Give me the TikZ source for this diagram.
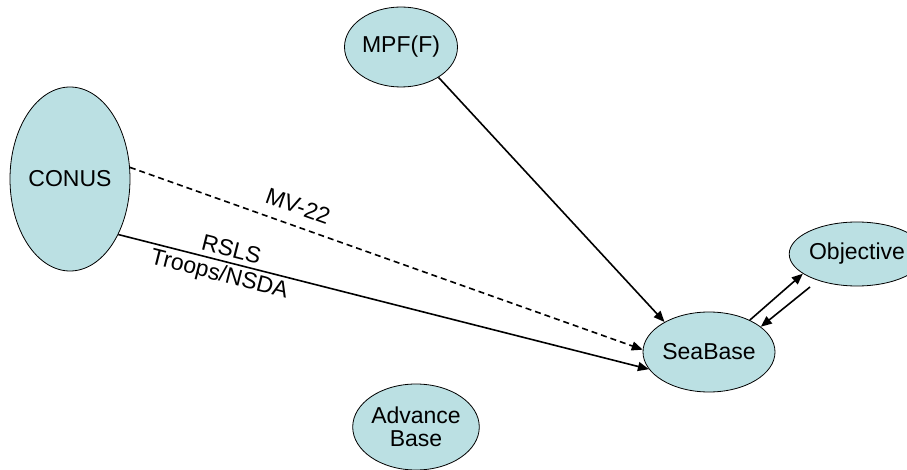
\documentclass[tikz,border=0pt]{standalone}
\usepackage{fontspec}
\setmainfont{Liberation Sans}
\usepackage{xcolor}
\usetikzlibrary{shapes.geometric}
\usetikzlibrary{arrows.meta}
\definecolor{sitefill}{RGB}{187,224,227}

\begin{document}
\begin{tikzpicture}[x=1pt,y=-1pt,
      every node/.style={font=\fontsize{23}{26}\selectfont},
      site/.style={ellipse,draw,line width=0.8pt,fill=sitefill,inner sep=0pt,align=center},
      route/.style={line width=1.6pt,-{Triangle[length=11pt,width=9pt]}},
      airlift/.style={route,dash pattern=on 6pt off 4pt}]
      \useasboundingbox (0,0) rectangle (907,470);

      \node[site,minimum width=120pt,minimum height=184pt] (conus) at (70,179) {CONUS};
      \node[site,minimum width=113pt,minimum height=80pt] (mpf) at (401,47) {MPF(F)};
      \node[site,minimum width=118pt,minimum height=80pt] (seabase) at (709,352) {SeaBase};
      \node[site,minimum width=112pt,minimum height=64pt] (objective) at (857,254) {Objective};
      \node[site,minimum width=106pt,minimum height=86pt] (advbase) at (416,427) {Advance\\[-3pt]Base};

      \coordinate (ret) at (810,287);

      \draw[route] (mpf.-39) -- (seabase.146);
      \draw[airlift] (conus.11) -- node[sloped,above,pos=0.315,inner sep=11pt] {MV-22} (seabase.178);
      \draw[route] (conus.-49) -- node[sloped,above,pos=0.207,inner sep=5pt] {RSLS}
        node[sloped,below,pos=0.197,inner sep=3pt] {Troops/NSDA} (seabase.196);
      \draw[route] (seabase.38) -- (objective.200);
      \draw[route] (ret) -- (seabase.26);
\end{tikzpicture}
\end{document}
